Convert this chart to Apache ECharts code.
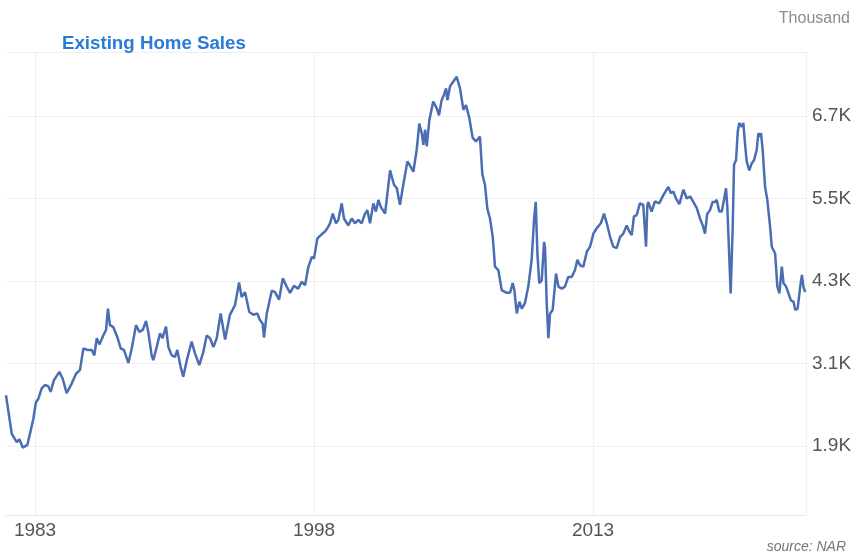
<!DOCTYPE html>
<html>
<head>
<meta charset="utf-8">
<script src="https://cdn.jsdelivr.net/npm/echarts@6/dist/echarts.min.js"></script>
<style>
html,body{margin:0;padding:0;background:#fff;}
#chart{width:856px;height:559px;}
</style>
</head>
<body>
<div id="chart"></div>
<script>
// Decimal years of each reading
const years = [
 1981.44,1981.75,1982.02,1982.16,1982.34,1982.59,1982.77,1982.91,1983.05,1983.18,
 1983.36,1983.54,1983.72,1983.84,1984.02,1984.31,1984.49,1984.70,1984.79,1984.97,
 1985.20,1985.42,1985.60,1985.81,1986.05,1986.19,1986.32,1986.46,1986.67,1986.82,
 1986.92,1987.03,1987.21,1987.42,1987.61,1987.78,1988.02,1988.20,1988.43,1988.61,
 1988.79,1988.97,1989.09,1989.27,1989.36,1989.54,1989.72,1989.86,1990.04,1990.17,
 1990.35,1990.53,1990.65,1990.83,1990.97,1991.16,1991.42,1991.60,1991.83,1992.05,
 1992.23,1992.41,1992.59,1992.77,1992.98,1993.22,1993.48,1993.75,1993.97,1994.11,
 1994.29,1994.52,1994.74,1994.95,1995.10,1995.24,1995.31,1995.46,1995.73,1995.90,
 1996.12,1996.32,1996.53,1996.71,1996.92,1997.15,1997.34,1997.52,1997.69,1997.88,
 1998.00,1998.18,1998.41,1998.59,1998.72,1998.86,1999.01,1999.18,1999.31,1999.49,
 1999.61,1999.84,2000.03,2000.20,2000.38,2000.56,2000.74,2000.87,2001.01,2001.19,
 2001.33,2001.46,2001.59,2001.82,2002.09,2002.30,2002.45,2002.62,2002.80,2003.02,
 2003.20,2003.34,2003.52,2003.66,2003.79,2003.88,2003.97,2004.06,2004.20,2004.41,
 2004.60,2004.72,2004.86,2004.99,2005.10,2005.17,2005.31,2005.49,2005.67,2005.85,
 2006.03,2006.17,2006.35,2006.53,2006.71,2006.92,2007.05,2007.19,2007.32,2007.46,
 2007.61,2007.73,2007.91,2008.09,2008.36,2008.54,2008.68,2008.77,2008.90,2009.04,
 2009.17,2009.34,2009.52,2009.70,2009.83,2009.92,2010.01,2010.11,2010.24,2010.37,
 2010.42,2010.51,2010.60,2010.69,2010.83,2011.01,2011.14,2011.32,2011.49,2011.67,
 2011.85,2012.03,2012.16,2012.30,2012.48,2012.67,2012.84,2013.02,2013.20,2013.42,
 2013.59,2013.74,2013.92,2014.09,2014.27,2014.45,2014.63,2014.81,2014.95,2015.08,
 2015.20,2015.35,2015.52,2015.70,2015.78,2015.85,2015.92,2015.97,2016.15,2016.33,
 2016.56,2016.78,2017.05,2017.18,2017.32,2017.46,2017.64,2017.86,2018.04,2018.22,
 2018.39,2018.58,2018.75,2018.90,2019.02,2019.14,2019.29,2019.43,2019.56,2019.65,
 2019.79,2019.92,2020.04,2020.15,2020.22,2020.33,2020.40,2020.51,2020.58,2020.69,
 2020.78,2020.86,2020.99,2021.08,2021.17,2021.26,2021.40,2021.53,2021.66,2021.80,
 2021.89,2021.98,2022.03,2022.12,2022.25,2022.37,2022.52,2022.61,2022.79,2022.91,
 2023.02,2023.15,2023.24,2023.38,2023.51,2023.64,2023.78,2023.87,2024.00,2024.14,
 2024.23,2024.31,2024.40
];
// Existing home sales, thousands (shown as K)
const sales = [
 2.64,2.08,1.96,2.00,1.88,1.92,2.13,2.30,2.54,2.59,
 2.74,2.79,2.77,2.69,2.86,2.98,2.88,2.67,2.66,2.81,
 2.95,3.01,3.32,3.30,3.30,3.22,3.47,3.38,3.51,3.59,
 3.90,3.66,3.63,3.49,3.32,3.30,3.11,3.32,3.66,3.56,
 3.59,3.72,3.56,3.22,3.15,3.34,3.54,3.47,3.64,3.34,
 3.22,3.20,3.30,3.05,2.91,3.15,3.42,3.25,3.08,3.27,
 3.51,3.47,3.34,3.47,3.83,3.45,3.81,3.95,4.28,4.07,
 4.14,3.85,3.81,3.83,3.73,3.68,3.48,3.83,4.16,4.14,
 4.03,4.34,4.22,4.13,4.23,4.19,4.29,4.24,4.50,4.65,
 4.63,4.92,4.98,5.02,5.07,5.14,5.28,5.14,5.19,5.43,
 5.21,5.11,5.21,5.14,5.19,5.14,5.28,5.33,5.14,5.43,
 5.31,5.48,5.38,5.28,5.91,5.70,5.65,5.41,5.70,6.04,
 5.96,5.89,6.21,6.59,6.45,6.28,6.50,6.26,6.64,6.91,
 6.81,6.71,6.93,7.01,7.10,6.93,7.13,7.20,7.27,7.10,
 6.79,6.86,6.67,6.38,6.33,6.40,5.85,5.70,5.35,5.21,
 4.94,4.51,4.46,4.17,4.13,4.13,4.27,4.17,3.83,4.00,
 3.90,3.98,4.22,4.61,5.19,5.45,4.70,4.27,4.31,4.87,
 4.78,3.98,3.47,3.83,3.88,4.41,4.22,4.19,4.22,4.36,
 4.36,4.46,4.61,4.53,4.51,4.73,4.80,4.99,5.07,5.14,
 5.28,5.14,4.94,4.80,4.78,4.94,4.99,5.11,5.02,4.97,
 5.24,5.26,5.43,5.41,5.40,4.80,5.40,5.45,5.31,5.46,
 5.43,5.55,5.67,5.58,5.60,5.50,5.42,5.63,5.50,5.53,
 5.45,5.36,5.21,5.11,4.99,5.28,5.33,5.45,5.45,5.48,
 5.31,5.31,5.48,5.65,5.38,4.61,4.12,5.09,5.99,6.06,
 6.47,6.60,6.54,6.60,6.30,6.04,5.91,6.01,6.06,6.21,
 6.45,6.40,6.45,6.21,5.67,5.48,5.09,4.80,4.70,4.22,
 4.12,4.51,4.27,4.22,4.12,4.02,4.00,3.88,3.90,4.22,
 4.39,4.22,4.14
];
const xTickLabels = [1983, 1998, 2013];
const yTickLabels = [1.9, 3.1, 4.3, 5.5, 6.7];

const X_MIN = 1981.44, X_MAX = 2024.45;
const Y_MIN = 0.9, Y_MAX = 7.63;

const chart = echarts.init(document.getElementById('chart'));
const font = '"Liberation Sans", Arial, sans-serif';
chart.setOption({
  animation: false,
  backgroundColor: '#ffffff',
  title: {
    text: 'Existing Home Sales',
    left: 62, top: 34, padding: 0,
    textStyle: { fontFamily: font, fontSize: 18.7, fontWeight: 'bold', color: '#2a7bd8' }
  },
  graphic: [
    { type: 'text', right: 6, top: 11,
      style: { text: 'Thousand', font: '16px "Liberation Sans", Arial, sans-serif', fill: '#8c8c8c' } },
    { type: 'text', right: 10, top: 540,
      style: { text: 'source: NAR', font: 'italic 14px "Liberation Sans", Arial, sans-serif', fill: '#777777' } }
  ],
  grid: { left: 6, right: 50, top: 52, bottom: 44, containLabel: false },
  xAxis: {
    type: 'value', min: X_MIN, max: X_MAX,
    axisLine: { show: true, lineStyle: { color: '#e6e6e6', width: 1 } },
    axisTick: { show: false, customValues: xTickLabels.concat([X_MAX]) },
    axisLabel: { customValues: xTickLabels, margin: 6, fontFamily: font, fontSize: 19, color: '#555555',
      formatter: v => String(Math.round(v)) },
    splitLine: { show: true, lineStyle: { color: '#efefef', width: 1 } }
  },
  yAxis: {
    type: 'value', position: 'right', min: Y_MIN, max: Y_MAX,
    axisLine: { show: false },
    axisTick: { show: false, customValues: yTickLabels.concat([Y_MAX]) },
    axisLabel: { customValues: yTickLabels, margin: 6, fontFamily: font, fontSize: 19, color: '#555555',
      formatter: v => v.toFixed(1) + 'K' },
    splitLine: { show: true, lineStyle: { color: '#efefef', width: 1 } }
  },
  series: [{
    type: 'line',
    data: years.map((y, i) => [y, sales[i]]),
    showSymbol: false, symbol: 'none',
    lineStyle: { color: '#4a6db4', width: 2.5 },
    silent: true
  }]
});
</script>
</body>
</html>
